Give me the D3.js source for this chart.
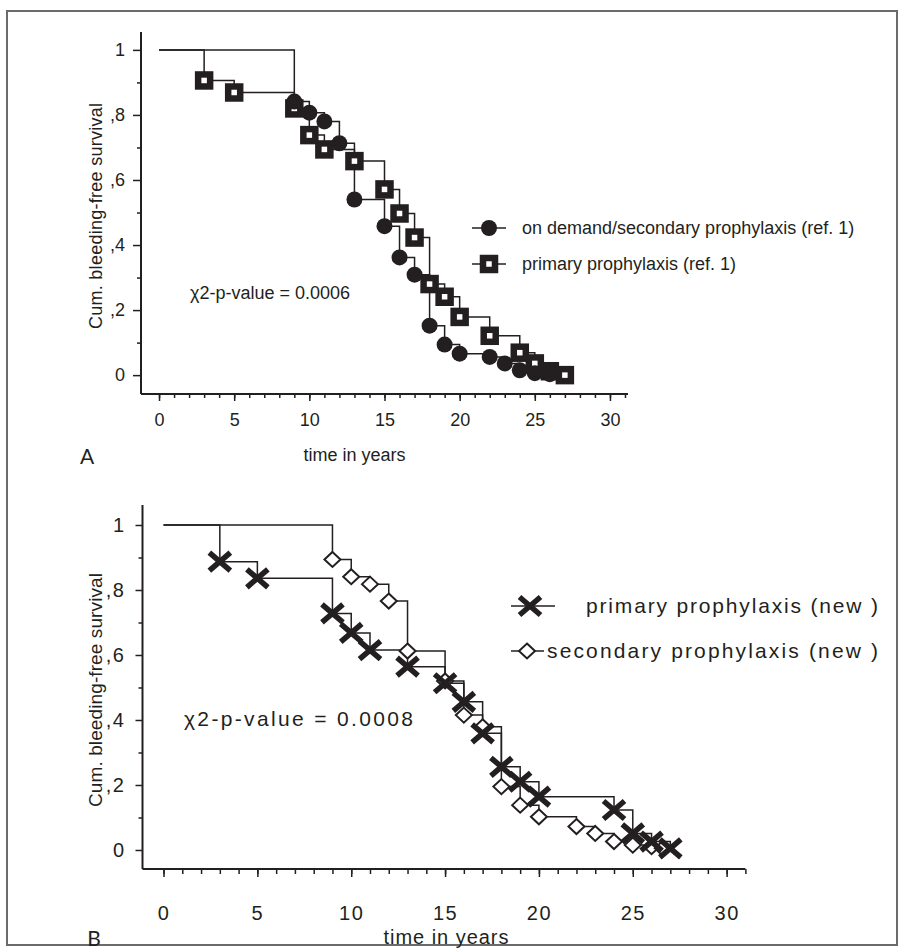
<!DOCTYPE html>
<html>
<head>
<meta charset="utf-8">
<script src="https://cdn.jsdelivr.net/npm/d3@7"></script>
<style>
  body { margin: 0; background: #fff; }
  svg { display: block; }
</style>
</head>
<body>
<script>
/* global d3 */

// ---------- Datos panel A (ref. 1) ----------
var tiemposA_demanda = [9, 10, 11, 12, 13, 15, 16, 17, 18, 19, 20, 22, 23, 24, 25, 26];
var survA_demanda    = [0.841, 0.807, 0.78, 0.713, 0.54, 0.458, 0.362, 0.309, 0.152, 0.094, 0.066, 0.056, 0.036, 0.015, 0.006, 0.003];
var tiemposA_primaria = [3, 5, 9, 10, 11, 13, 15, 16, 17, 18, 19, 20, 22, 24, 25, 26, 27];
var survA_primaria    = [0.906, 0.869, 0.82, 0.738, 0.694, 0.658, 0.571, 0.497, 0.423, 0.28, 0.241, 0.179, 0.121, 0.069, 0.036, 0.012, 0];

// ---------- Datos panel B (nuevos) ----------
var tiemposB_primaria = [3, 5, 9, 10, 11, 13, 15, 16, 17, 18, 19, 20, 24, 25, 26, 27];
var survB_primaria    = [0.887, 0.836, 0.728, 0.668, 0.615, 0.564, 0.513, 0.456, 0.359, 0.256, 0.21, 0.164, 0.123, 0.051, 0.026, 0.005];
var tiemposB_secundaria = [9, 10, 11, 12, 13, 15, 16, 17, 18, 19, 20, 22, 23, 24, 25, 26, 26.6];
var survB_secundaria    = [0.894, 0.841, 0.818, 0.766, 0.612, 0.52, 0.415, 0.379, 0.195, 0.138, 0.102, 0.072, 0.051, 0.026, 0.015, 0.01, 0.005];

// ---------- Ejes y textos ----------
var ticksX = [0, 5, 10, 15, 20, 25, 30];
var ticksXmenor = d3.range(0, 32, 1);
var ticksY = [0, 0.2, 0.4, 0.6, 0.8, 1];
var ticksYmenor = [0.1, 0.3, 0.5, 0.7, 0.9];
var tituloX = "time in years";
var tituloY = "Cum. bleeding-free survival";
var leyendaA = ["on demand/secondary prophylaxis (ref. 1)", "primary prophylaxis (ref. 1)"];
var leyendaB = ["primary prophylaxis (new )", "secondary prophylaxis (new )"];
var pValorA = "\u03c72-p-value = 0.0006";
var pValorB = "\u03c72-p-value = 0.0008";

var tinta = "#231f20";
var fuenteA = "'Liberation Sans', Arial, Helvetica, sans-serif";
var fuenteB = "'Liberation Sans', Arial, Helvetica, sans-serif";

var svg = d3.select("body").append("svg")
    .attr("width", 906)
    .attr("height", 952);

// Marco gris exterior
svg.append("rect")
    .attr("x", 7).attr("y", 11)
    .attr("width", 890).attr("height", 934)
    .attr("fill", "none")
    .attr("stroke", "#6b6b6b")
    .attr("stroke-width", 2);

// Formato de las etiquetas del eje Y (",8" etc.)
function formatoY(d) {
  if (d === 0) return "0";
  if (d === 1) return "1";
  return "," + Math.round(d * 10);
}

// Generar los puntos de una curva escalonada Kaplan-Meier
function escalones(tiempos, surv) {
  var pts = [[0, 1]];
  var prev = 1;
  for (var i = 0; i < tiempos.length; i++) {
    pts.push([tiempos[i], prev]);
    pts.push([tiempos[i], surv[i]]);
    prev = surv[i];
  }
  return pts;
}

// Dibujar ejes de un panel
function dibujarEjes(g, x, y, cfg) {
  var ejeX = g.append("g").attr("transform", "translate(0," + y.range()[0] + ")");
  ejeX.call(d3.axisBottom(x).tickValues(ticksXmenor).tickSize(cfg.menorX).tickFormat(""));
  ejeX.append("g").call(d3.axisBottom(x).tickValues(ticksX).tickSize(cfg.mayorX).tickSizeOuter(0).tickPadding(cfg.padX));
  ejeX.selectAll("path.domain").remove();
  ejeX.append("line")
      .attr("x1", x.range()[0]).attr("x2", x.range()[1])
      .attr("stroke", tinta).attr("stroke-width", 2);

  var ejeY = g.append("g").attr("transform", "translate(" + x.range()[0] + ",0)");
  ejeY.call(d3.axisLeft(y).tickValues(ticksYmenor).tickSize(cfg.menorY).tickFormat(""));
  ejeY.append("g").call(d3.axisLeft(y).tickValues(ticksY).tickSize(cfg.mayorY).tickFormat(formatoY).tickPadding(cfg.padY));
  ejeY.selectAll("path.domain").remove();
  ejeY.append("line")
      .attr("y1", y.range()[0]).attr("y2", y.range()[1])
      .attr("stroke", tinta).attr("stroke-width", 2);

  g.selectAll(".tick line").attr("stroke", tinta).attr("stroke-width", 1.5);
  g.selectAll(".tick text")
      .attr("fill", tinta)
      .style("font-family", cfg.fuente)
      .style("font-size", cfg.tam + "px")
      .style("letter-spacing", cfg.espaciado + "px");
}

var linea = function (x, y) {
  return d3.line().x(function (d) { return x(d[0]); }).y(function (d) { return y(d[1]); });
};

// =================== PANEL A ===================
var xA = d3.scaleLinear().domain([-1.2, 31.2]).range([141, 628]);
var yA = d3.scaleLinear().domain([-0.058, 1.055]).range([394, 32]);
var gA = svg.append("g");

dibujarEjes(gA, xA, yA, {mayorX: 7, menorX: 4, padX: 12, mayorY: 8, menorY: 4, padY: 8, fuente: fuenteA, tam: 18, espaciado: 0});

var lineaA = linea(xA, yA);
gA.append("path").attr("d", lineaA(escalones(tiemposA_primaria, survA_primaria)))
    .attr("fill", "none").attr("stroke", tinta).attr("stroke-width", 1.5);
gA.append("path").attr("d", lineaA(escalones(tiemposA_demanda, survA_demanda)))
    .attr("fill", "none").attr("stroke", tinta).attr("stroke-width", 1.5);

// Cuadrados (profilaxis primaria)
gA.selectAll(".cuadrado").data(d3.zip(tiemposA_primaria, survA_primaria)).enter()
  .append("rect").attr("class", "cuadrado")
    .attr("x", function (d) { return xA(d[0]) - 6; })
    .attr("y", function (d) { return yA(d[1]) - 6; })
    .attr("width", 12).attr("height", 12)
    .attr("fill", "#fff").attr("stroke", tinta).attr("stroke-width", 6.5);

// Circulos (a demanda / secundaria)
gA.selectAll(".circulo").data(d3.zip(tiemposA_demanda, survA_demanda)).enter()
  .append("circle").attr("class", "circulo")
    .attr("cx", function (d) { return xA(d[0]); })
    .attr("cy", function (d) { return yA(d[1]); })
    .attr("r", 8)
    .attr("fill", tinta);

// Textos panel A
gA.append("text").text(tituloX)
    .attr("x", xA(13)).attr("y", 455).attr("dy", "0.35em")
    .attr("text-anchor", "middle").attr("fill", tinta)
    .style("font-family", fuenteA).style("font-size", "18px");
gA.append("text").text(tituloY)
    .attr("transform", "translate(96,216) rotate(-90)")
    .attr("text-anchor", "middle").attr("dy", "0.35em").attr("fill", tinta)
    .attr("textLength", 226).attr("lengthAdjust", "spacing")
    .style("font-family", fuenteA).style("font-size", "18px");
gA.append("text").text(pValorA)
    .attr("x", 190).attr("y", 293).attr("dy", "0.35em").attr("fill", tinta)
    .style("font-family", fuenteA).style("font-size", "18px");
gA.append("text").text("A")
    .attr("x", 87).attr("y", 457).attr("dy", "0.35em").attr("text-anchor", "middle")
    .attr("fill", tinta)
    .style("font-family", "Lato, 'Open Sans', sans-serif").style("font-size", "21px");

// Leyenda panel A
var filasA = [228, 264];
filasA.forEach(function (fy, i) {
  gA.append("line").attr("x1", 472).attr("x2", 506).attr("y1", fy).attr("y2", fy)
      .attr("stroke", tinta).attr("stroke-width", 1.5);
  if (i === 0) {
    gA.append("circle").attr("cx", 489).attr("cy", fy).attr("r", 8).attr("fill", tinta);
  } else {
    gA.append("rect").attr("x", 483).attr("y", fy - 6).attr("width", 12).attr("height", 12)
        .attr("fill", "#fff").attr("stroke", tinta).attr("stroke-width", 6.5);
  }
  gA.append("text").text(leyendaA[i])
      .attr("x", 522).attr("y", fy).attr("dy", "0.35em").attr("fill", tinta)
      .style("font-family", fuenteA).style("font-size", "18px");
});

// =================== PANEL B ===================
var xB = d3.scaleLinear().domain([-1.12, 31]).range([142.5, 745.4]);
var yB = d3.scaleLinear().domain([-0.0585, 1.0615]).range([869, 505]);
var gB = svg.append("g");

dibujarEjes(gB, xB, yB, {mayorX: 8, menorX: 5, padX: 29, mayorY: 7, menorY: 4, padY: 10, fuente: fuenteB, tam: 20, espaciado: 1.5});

var lineaB = linea(xB, yB);
gB.append("path").attr("d", lineaB(escalones(tiemposB_secundaria, survB_secundaria)))
    .attr("fill", "none").attr("stroke", tinta).attr("stroke-width", 1.5);
gB.append("path").attr("d", lineaB(escalones(tiemposB_primaria, survB_primaria)))
    .attr("fill", "none").attr("stroke", tinta).attr("stroke-width", 1.5);

var rombo = "M0,-7.5L8,0L0,7.5L-8,0Z";
var cruz = "M-10.5,-9L10.5,9M-10.5,9L10.5,-9";

// Rombos (profilaxis secundaria)
gB.selectAll(".rombo").data(d3.zip(tiemposB_secundaria, survB_secundaria)).enter()
  .append("path").attr("class", "rombo")
    .attr("d", rombo)
    .attr("transform", function (d) { return "translate(" + xB(d[0]) + "," + yB(d[1]) + ")"; })
    .attr("fill", "#fff").attr("stroke", tinta).attr("stroke-width", 2);

// Cruces (profilaxis primaria)
gB.selectAll(".cruz").data(d3.zip(tiemposB_primaria, survB_primaria)).enter()
  .append("path").attr("class", "cruz")
    .attr("d", cruz)
    .attr("transform", function (d) { return "translate(" + xB(d[0]) + "," + yB(d[1]) + ")"; })
    .attr("fill", "none").attr("stroke", tinta).attr("stroke-width", 5.5);

// Textos panel B
gB.append("text").text(tituloX)
    .attr("x", 446).attr("y", 937).attr("dy", "0.35em")
    .attr("text-anchor", "middle").attr("fill", tinta)
    .attr("textLength", 125).attr("lengthAdjust", "spacing")
    .style("font-family", fuenteB).style("font-size", "20px");
gB.append("text").text(tituloY)
    .attr("transform", "translate(95,690) rotate(-90)")
    .attr("text-anchor", "middle").attr("dy", "0.35em").attr("fill", tinta)
    .attr("textLength", 234).attr("lengthAdjust", "spacing")
    .style("font-family", fuenteB).style("font-size", "19px");
gB.append("text").text(pValorB)
    .attr("x", 184).attr("y", 719).attr("dy", "0.35em").attr("fill", tinta)
    .attr("textLength", 229).attr("lengthAdjust", "spacing")
    .style("font-family", fuenteB).style("font-size", "21px");
gB.append("text").text("B")
    .attr("x", 94).attr("y", 939).attr("dy", "0.35em").attr("text-anchor", "middle")
    .attr("fill", tinta)
    .style("font-family", "Lato, 'Open Sans', sans-serif").style("font-size", "21px");

// Leyenda panel B
var filasB = [606, 651];
var inicioTextoB = [586, 547];
var largoTextoB = [292, 331];
filasB.forEach(function (fy, i) {
  gB.append("line").attr("x1", 511).attr("x2", i === 0 ? 555 : 544).attr("y1", fy).attr("y2", fy)
      .attr("stroke", tinta).attr("stroke-width", 1.5);
  if (i === 0) {
    gB.append("path").attr("d", cruz).attr("transform", "translate(530," + fy + ")")
        .attr("fill", "none").attr("stroke", tinta).attr("stroke-width", 5.5);
  } else {
    gB.append("path").attr("d", rombo).attr("transform", "translate(527," + fy + ")")
        .attr("fill", "#fff").attr("stroke", tinta).attr("stroke-width", 2);
  }
  gB.append("text").text(leyendaB[i])
      .attr("x", inicioTextoB[i]).attr("y", fy).attr("dy", "0.35em").attr("fill", tinta)
      .attr("textLength", largoTextoB[i]).attr("lengthAdjust", "spacing")
      .style("font-family", fuenteB).style("font-size", "21px");
});
</script>
</body>
</html>
